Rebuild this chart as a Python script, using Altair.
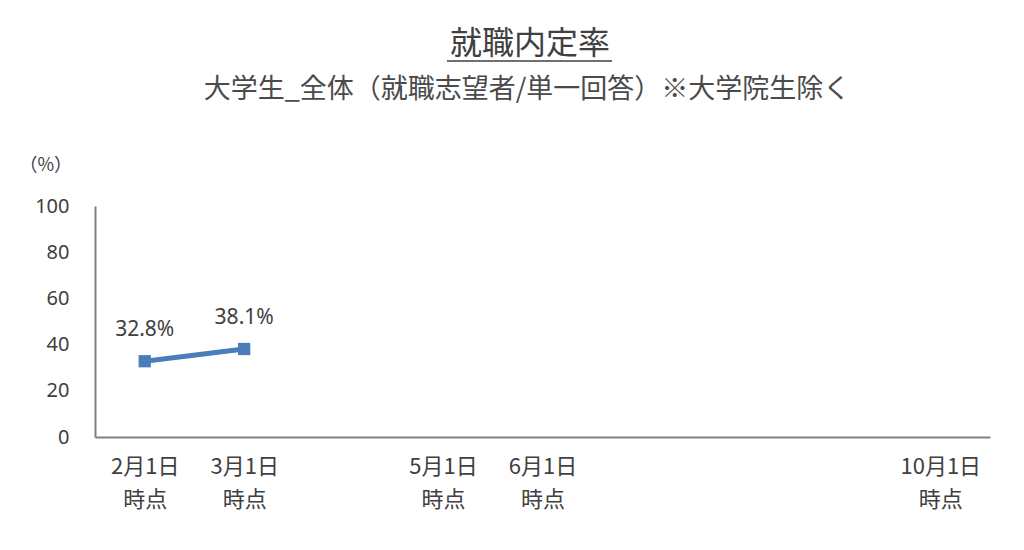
import altair as alt
import pandas as pd

months = [2, 3]
rates = [32.8, 38.1]
label_texts = ["32.8%", "38.1%"]
tick_months = [2, 3, 5, 6, 10]
title_text = "就職内定率"
subtitle_text = "大学生_全体（就職志望者/単一回答）※大学院生除く"

df = pd.DataFrame({"month": months, "rate": rates, "label": label_texts})

FONT = "Noto Sans CJK JP"
TXT = "#404040"
BLUE = "#4a7ebb"

x = alt.X(
    "month:Q",
    scale=alt.Scale(domain=[1.5, 10.5], nice=False, zero=False),
    axis=alt.Axis(
        values=tick_months,
        labelExpr="[datum.value + '月1日', '時点']",
        ticks=False,
        grid=False,
        domainColor="#808080",
        domainWidth=2,
        labelFont=FONT,
        labelFontSize=22,
        labelColor=TXT,
        labelLineHeight=33,
        labelPadding=19,
        title=None,
    ),
)
y = alt.Y(
    "rate:Q",
    scale=alt.Scale(domain=[0, 100], nice=False),
    axis=alt.Axis(
        values=[0, 20, 40, 60, 80, 100],
        ticks=False,
        grid=False,
        domainColor="#808080",
        domainWidth=2,
        labelFont="Noto Sans",
        labelFontSize=20,
        labelColor=TXT,
        labelPadding=26,
        title="（%）",
        titleAngle=0,
        titleAlign="left",
        titleBaseline="middle",
        titleX=-76,
        titleY=-41,
        titleFont=FONT,
        titleFontSize=18,
        titleFontWeight="normal",
        titleColor=TXT,
    ),
)

base = alt.Chart(df)
line = base.mark_line(color=BLUE, strokeWidth=5).encode(x=x, y=y)
pts = base.mark_square(color=BLUE, size=150, opacity=1).encode(x=x, y=y)
txt = base.mark_text(font="Noto Sans", fontSize=21, color=TXT, dy=-31, baseline="middle").encode(
    x=x, y=y, text="label:N"
)

head = pd.DataFrame({"t": [title_text]})
sub = pd.DataFrame({"t": [subtitle_text]})
title_mark = alt.Chart(head).mark_text(
    font=FONT, fontSize=32, color=TXT, align="center", baseline="middle"
).encode(x=alt.value(435), y=alt.value(-162), text="t:N")
underline = alt.Chart(head).mark_rule(color=TXT, strokeWidth=1.5).encode(
    x=alt.value(352), x2=alt.value(517), y=alt.value(-145)
)
subtitle_mark = alt.Chart(sub).mark_text(
    font=FONT, fontSize=27, color="#4a4a4a", align="center", baseline="middle"
).encode(x=alt.value(432), y=alt.value(-116), text="t:N")

chart = (
    alt.layer(line, pts, txt, title_mark, underline, subtitle_mark)
    .properties(
        width=895,
        height=231,
        padding={"left": 87, "top": 198, "right": 26, "bottom": 100},
        autosize=alt.AutoSizeParams(type="none"),
        background="white",
    )
    .configure_view(stroke="transparent", strokeWidth=0)
)

chart.save("out.html", embed_options={"renderer": "svg", "actions": False})
